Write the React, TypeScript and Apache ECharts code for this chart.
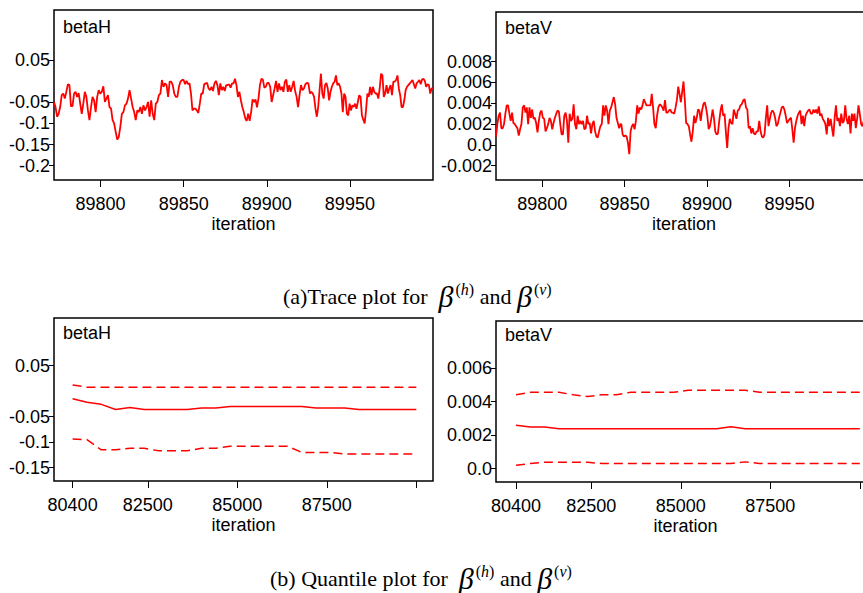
import React, { useEffect, useRef } from "react";
import * as echarts from "echarts";

// ---------------- Trace plot data (betaH) ----------------
const H_TRACE_RANGES = [
  [89772, 89849],
  [89850, 89925],
  [89926, 90000],
];
const H_TRACE_A = [-0.049, -0.061, -0.084, -0.077, -0.061, -0.033, -0.029, -0.041, -0.025, -0.007, -0.009, -0.059, -0.059, -0.029, -0.025, -0.037, -0.028, -0.053, -0.077, -0.053, -0.025, -0.037, -0.069, -0.092, -0.061, -0.037, -0.045, -0.073, -0.037, -0.021, -0.029, -0.025, -0.012, -0.049, -0.041, -0.033, -0.061, -0.065, -0.092, -0.1, -0.12, -0.138, -0.132, -0.108, -0.077, -0.073, -0.057, -0.053, -0.041, -0.021, -0.041, -0.061, -0.073, -0.092, -0.069, -0.073, -0.061, -0.077, -0.057, -0.069, -0.061, -0.049, -0.084, -0.045, -0.077, -0.092, -0.053, -0.049, -0.033, -0.029, 0.003, -0.013, -0.005, -0.009, -0.037, -0.001, -0.001, -0.009, -0.029, -0.037, -0.037, -0.013, -0.001, 0.003];
const H_TRACE_B = [0.003, -0.007, 0.001, -0.007, -0.005, -0.029, -0.069, -0.065, -0.065, -0.069, -0.075, -0.053, -0.029, -0.029, -0.007, -0.005, -0.004, -0.017, -0.021, -0.013, -0.023, -0.005, 0.001, -0.009, -0.033, -0.005, -0.021, -0.013, -0.023, -0.009, -0.009, -0.007, -0.015, -0.005, -0.005, 0.006, -0.009, -0.037, -0.025, -0.045, -0.061, -0.073, -0.088, -0.094, -0.077, -0.094, -0.073, -0.043, -0.049, -0.043, -0.062, -0.041, -0.009, 0.006, 0.004, -0.015, -0.013, -0.004, -0.004, -0.013, -0.049, -0.033, -0.017, 0.001, -0.025, -0.005, -0.021, -0.013, -0.025, -0.001, 0.004, -0.025, -0.009, -0.025, -0.013, 0.001, -0.023, -0.037, -0.061, -0.033, -0.009, -0.021, -0.017, -0.007, -0.004, -0.005];
const H_TRACE_C = [-0.029, -0.025, -0.029, -0.037, -0.065, -0.084, -0.061, -0.021, 0.018, -0.029, -0.041, -0.009, -0.004, -0.017, -0.045, -0.025, -0.013, -0.005, -0.001, 0.014, -0.009, -0.005, -0.013, -0.029, -0.073, -0.029, -0.037, -0.077, -0.081, -0.053, -0.069, -0.057, -0.061, -0.053, -0.065, -0.049, -0.033, -0.037, -0.081, -0.091, -0.1, -0.069, -0.029, -0.037, -0.013, -0.033, -0.013, -0.025, -0.029, -0.029, -0.041, -0.017, 0.018, 0.014, -0.037, -0.029, -0.009, -0.029, -0.017, -0.009, -0.033, -0.001, -0.001, 0.003, 0.014, -0.017, -0.033, -0.061, -0.061, -0.045, -0.021, -0.013, -0.009, -0.005, -0.001, 0.003, -0.007, -0.017, -0.005, -0.001, 0.003, -0.007, 0.004, 0.006, 0.001, -0.013, -0.007, -0.009, -0.029, -0.017, -0.017];

// ---------------- Trace plot data (betaV) ----------------
const V_TRACE_RANGES = [
  [89772, 89847.5],
  [89848, 89921],
  [89922, 89995],
];
const V_TRACE_A = [0.0008, 0.002, 0.0028, 0.0031, 0.0016, 0.0016, 0.002, 0.003, 0.0038, 0.0038, 0.003, 0.0023, 0.0031, 0.0021, 0.002, 0.0018, 0.0016, 0.0009, 0.0015, 0.002, 0.0036, 0.0038, 0.0031, 0.0036, 0.002, 0.0036, 0.0026, 0.0034, 0.0025, 0.0026, 0.0021, 0.0012, 0.0023, 0.0031, 0.0033, 0.0026, 0.0025, 0.0013, 0.0016, 0.002, 0.0026, 0.0023, 0.0015, 0.0021, 0.0026, 0.003, 0.0033, 0.0032, 0.002, 0.001, 0.001, 0.0028, 0.0031, 0.0023, 0.0002, 0.003, 0.0023, 0.0025, 0.0039, 0.002, 0.0015, 0.0028, 0.002, 0.0023, 0.002, 0.0023, 0.0015, 0.0016, 0.0028, 0.002, 0.0021, 0.0011, 0.002, 0.0023, 0.0013, 0.0008, 0.0007, 0.0013, 0.0018, 0.002, 0.0038, 0.0028, 0.0038, 0.0033, 0.002, 0.0033, 0.0036, 0.0041, 0.0046, 0.0039, 0.0026, 0.0021, 0.0016, 0.002];
const V_TRACE_B = [0.002, 0.001, 0.0008, 0.0009, 0.0008, 0.0002, -0.0009, 0.0013, 0.0018, 0.002, 0.0015, 0.0023, 0.0038, 0.003, 0.0036, 0.0034, 0.0038, 0.0044, 0.0041, 0.0038, 0.0038, 0.0038, 0.0038, 0.0049, 0.0036, 0.002, 0.0016, 0.0028, 0.0036, 0.0039, 0.0038, 0.0036, 0.0033, 0.0043, 0.0031, 0.0031, 0.0033, 0.0034, 0.0031, 0.0031, 0.003, 0.0036, 0.0043, 0.0056, 0.0049, 0.0041, 0.0051, 0.0061, 0.0043, 0.0021, 0.002, 0.0018, 0.001, 0.0003, 0.0013, 0.0028, 0.0021, 0.0026, 0.0034, 0.0033, 0.0023, 0.0033, 0.0039, 0.0041, 0.0036, 0.0028, 0.0015, 0.0018, 0.0025, 0.0034, 0.0026, 0.0013, 0.001, 0.0011, 0.0023, 0.0033, 0.0039, 0.0028, 0.003, 0.0013, -0.0003, 0.0016, 0.0025, 0.0021, 0.002, 0.0034, 0.003, 0.0025, 0.0033, 0.0034, 0.0038, 0.0039];
const V_TRACE_C = [0.0043, 0.0044, 0.0036, 0.0034, 0.0016, 0.0018, 0.0011, 0.0016, 0.0011, 0.001, 0.0013, 0.0013, 0.0023, 0.0013, 0.0008, 0.0007, 0.001, 0.0026, 0.0038, 0.0018, 0.0025, 0.0031, 0.0033, 0.0031, 0.0026, 0.0018, 0.002, 0.0026, 0.0031, 0.0036, 0.0037, 0.0034, 0.0028, 0.0021, 0.0023, 0.0025, 0.0026, 0.0015, 0.0002, 0.0016, 0.0023, 0.0028, 0.0031, 0.0033, 0.002, 0.0028, 0.0018, 0.0028, 0.0031, 0.0033, 0.0034, 0.003, 0.003, 0.0034, 0.0031, 0.0034, 0.003, 0.0037, 0.0028, 0.003, 0.0025, 0.0023, 0.002, 0.001, 0.0026, 0.0018, 0.0025, 0.0016, 0.0008, 0.0026, 0.0038, 0.0023, 0.0026, 0.0018, 0.003, 0.0021, 0.0023, 0.0038, 0.0025, 0.002, 0.0028, 0.0011, 0.003, 0.0023, 0.003, 0.0016, 0.0025, 0.0038, 0.003, 0.002, 0.0018, 0.0023];

// ---------------- Quantile plot data ----------------
const Q_ITERS = [80400, 80800, 81200, 81600, 82000, 82400, 82800, 83200, 83600, 84000, 84400, 84800, 85200, 85600, 86000, 86400, 86800, 87200, 87600, 88000, 88400, 88800, 89200, 89600, 90000];
const H_UPPER = [0.012, 0.0075, 0.0075, 0.0075, 0.0075, 0.0075, 0.0075, 0.0075, 0.0075, 0.0075, 0.0075, 0.0075, 0.0075, 0.0075, 0.0075, 0.0075, 0.0075, 0.0075, 0.0075, 0.0075, 0.0075, 0.0075, 0.0075, 0.0075, 0.0075];
const H_MEDIAN = [-0.015, -0.022, -0.026, -0.036, -0.032, -0.036, -0.036, -0.036, -0.036, -0.033, -0.033, -0.03, -0.03, -0.03, -0.03, -0.03, -0.03, -0.033, -0.033, -0.033, -0.036, -0.036, -0.036, -0.036, -0.036];
const H_LOWER = [-0.094, -0.095, -0.115, -0.115, -0.112, -0.112, -0.117, -0.117, -0.117, -0.112, -0.112, -0.108, -0.108, -0.108, -0.108, -0.108, -0.12, -0.12, -0.12, -0.123, -0.123, -0.123, -0.123, -0.123, -0.123];
const V_UPPER = [0.0044, 0.00455, 0.00455, 0.00455, 0.0044, 0.0043, 0.0044, 0.0044, 0.00455, 0.00455, 0.00455, 0.00455, 0.00467, 0.00467, 0.00467, 0.00467, 0.00467, 0.00455, 0.00455, 0.00455, 0.00455, 0.00455, 0.00455, 0.00455, 0.00455];
const V_MEDIAN = [0.00258, 0.00248, 0.00248, 0.00238, 0.00238, 0.00238, 0.00238, 0.00238, 0.00238, 0.00238, 0.00238, 0.00238, 0.00238, 0.00238, 0.00238, 0.0025, 0.00238, 0.00238, 0.00238, 0.00238, 0.00238, 0.00238, 0.00238, 0.00238, 0.00238];
const V_LOWER = [0.0002, 0.0003, 0.00038, 0.00038, 0.00038, 0.00038, 0.0003, 0.0003, 0.0003, 0.0003, 0.0003, 0.0003, 0.0003, 0.0003, 0.0003, 0.0003, 0.0004, 0.0003, 0.0003, 0.0003, 0.0003, 0.0003, 0.0003, 0.0003, 0.0003];

// ---------------- Tick labels ----------------
const TRACE_X_TICKS = [89800, 89850, 89900, 89950];
const QUANT_X_LABELS = [80400, 82500, 85000, 87500];
const QUANT_X_TICKS = [80400, 82500, 85000, 87500, 90000];
const H_TRACE_Y_TICKS = [0.05, -0.05, -0.1, -0.15, -0.2];
const V_TRACE_Y_TICKS = [0.008, 0.006, 0.004, 0.002, 0, -0.002];
const H_QUANT_Y_TICKS = [0.05, -0.05, -0.1, -0.15];
const V_QUANT_Y_TICKS = [0.006, 0.004, 0.002, 0];

const PANEL_LABELS = ["betaH", "betaV", "betaH", "betaV"];

const SANS = "'Liberation Sans', Arial, sans-serif";
const SERIF = "'Liberation Serif', 'Times New Roman', serif";
const RED = "#ff0000";

function segmentPairs(values: number[], range: number[]) {
  const [a, b] = range;
  const n = values.length;
  return values.map((v, i) => [a + (i * (b - a)) / (n - 1), v]);
}

function tracePairs(segs: number[][], ranges: number[][]) {
  const out: number[][] = [];
  segs.forEach((s, k) => out.push(...segmentPairs(s, ranges[k])));
  return out;
}

function zip(xs: number[], ys: number[]) {
  return xs.map((x, i) => [x, ys[i]]);
}

function fmtY(v: number) {
  if (Math.abs(v) < 1e-12) return "0.0";
  return String(parseFloat(v.toFixed(6)));
}

function xAxis(gridIndex: number, min: number, max: number, labels: number[], ticks: number[]) {
  return {
    type: "value",
    gridIndex,
    min,
    max,
    axisLine: { show: false, onZero: false },
    splitLine: { show: false },
    axisTick: {
      show: true,
      inside: false,
      length: 7,
      customValues: ticks,
      lineStyle: { color: "#000", width: 1 },
    },
    axisLabel: {
      customValues: labels,
      color: "#000",
      fontSize: 18,
      fontFamily: SANS,
      margin: 15,
      formatter: (v: number) => String(v),
    },
    name: "iteration",
    nameLocation: "middle",
    nameGap: 35,
    nameTextStyle: { color: "#000", fontSize: 18, fontFamily: SANS },
  };
}

function yAxis(gridIndex: number, min: number, max: number, ticks: number[]) {
  return {
    type: "value",
    gridIndex,
    min,
    max,
    axisLine: { show: false, onZero: false },
    splitLine: { show: false },
    axisTick: {
      show: true,
      inside: false,
      length: 5,
      customValues: ticks,
      lineStyle: { color: "#000", width: 1 },
    },
    axisLabel: {
      customValues: ticks,
      color: "#000",
      fontSize: 18,
      fontFamily: SANS,
      margin: 4,
      formatter: fmtY,
    },
  };
}

function lineSeries(idx: number, data: number[][], dashed: boolean, width: number) {
  return {
    type: "line",
    xAxisIndex: idx,
    yAxisIndex: idx,
    data,
    symbol: "none",
    showSymbol: false,
    silent: true,
    lineStyle: { color: RED, width, type: dashed ? [9, 5] : "solid" },
  };
}

export default function App() {
  const ref = useRef<HTMLDivElement>(null);

  useEffect(() => {
    if (!ref.current) return;
    const chart = echarts.init(ref.current, undefined, { renderer: "svg" });

    const gridBase = {
      show: true,
      borderColor: "#000",
      borderWidth: 1.5,
      backgroundColor: "transparent",
      containLabel: false,
      outerBoundsMode: "none",
    };

    const labelPos = [
      [63, 27],
      [505, 28],
      [63, 333],
      [505, 335],
    ];

    const caption = (prefix: string, x: number, y: number) => ({
      type: "text",
      x,
      y,
      silent: true,
      style: {
        text: `{n|${prefix}  }{b|β}{s|(}{si|h}{s|)}{n| and }{b|β}{s|(}{si|v}{s|)}`,
        align: "left",
        verticalAlign: "middle",
        fill: "#000",
        rich: {
          n: { fontSize: 22, fontFamily: SERIF, fill: "#000" },
          b: { fontSize: 30, fontFamily: SERIF, fontStyle: "italic", fill: "#000", padding: [0, 2, 0, 0] },
          s: { fontSize: 16, fontFamily: SERIF, fill: "#000", verticalAlign: "top" },
          si: { fontSize: 16, fontFamily: SERIF, fontStyle: "italic", fill: "#000", verticalAlign: "top" },
        },
      },
    });

    const option = {
      animation: false,
      backgroundColor: "#fff",
      textStyle: { fontFamily: SANS },
      grid: [
        { ...gridBase, left: 54, top: 10, width: 379, height: 170 },
        { ...gridBase, left: 496, top: 12, width: 376, height: 168 },
        { ...gridBase, left: 54, top: 318, width: 379, height: 163 },
        { ...gridBase, left: 496, top: 321, width: 379, height: 161 },
      ],
      xAxis: [
        xAxis(0, 89772, 90000, TRACE_X_TICKS, TRACE_X_TICKS),
        xAxis(1, 89772, 90000, TRACE_X_TICKS, TRACE_X_TICKS),
        xAxis(2, 79880, 90465, QUANT_X_LABELS, QUANT_X_TICKS),
        xAxis(3, 79840, 90425, QUANT_X_LABELS, QUANT_X_TICKS),
      ],
      yAxis: [
        yAxis(0, -0.234, 0.169, H_TRACE_Y_TICKS),
        yAxis(1, -0.00338, 0.01278, V_TRACE_Y_TICKS),
        yAxis(2, -0.176, 0.143, H_QUANT_Y_TICKS),
        yAxis(3, -0.0008, 0.0088, V_QUANT_Y_TICKS),
      ],
      series: [
        lineSeries(0, tracePairs([H_TRACE_A, H_TRACE_B, H_TRACE_C], H_TRACE_RANGES), false, 1.8),
        lineSeries(1, tracePairs([V_TRACE_A, V_TRACE_B, V_TRACE_C], V_TRACE_RANGES), false, 1.8),
        lineSeries(2, zip(Q_ITERS, H_UPPER), true, 1.5),
        lineSeries(2, zip(Q_ITERS, H_MEDIAN), false, 1.5),
        lineSeries(2, zip(Q_ITERS, H_LOWER), true, 1.5),
        lineSeries(3, zip(Q_ITERS, V_UPPER), true, 1.5),
        lineSeries(3, zip(Q_ITERS, V_MEDIAN), false, 1.5),
        lineSeries(3, zip(Q_ITERS, V_LOWER), true, 1.5),
      ],
      graphic: [
        ...PANEL_LABELS.map((t, i) => ({
          type: "text",
          x: labelPos[i][0],
          y: labelPos[i][1],
          silent: true,
          style: {
            text: t,
            fill: "#000",
            font: `18px ${SANS}`,
            align: "left",
            verticalAlign: "middle",
          },
        })),
        caption("(a)Trace plot for", 283, 296),
        caption("(b) Quantile plot for", 270, 578),
      ],
    };

    chart.setOption(option as any);
    return () => chart.dispose();
  }, []);

  return (
    <div
      ref={ref}
      style={{ position: "fixed", left: 0, top: 0, width: 863, height: 593, background: "#fff" }}
    />
  );
}
